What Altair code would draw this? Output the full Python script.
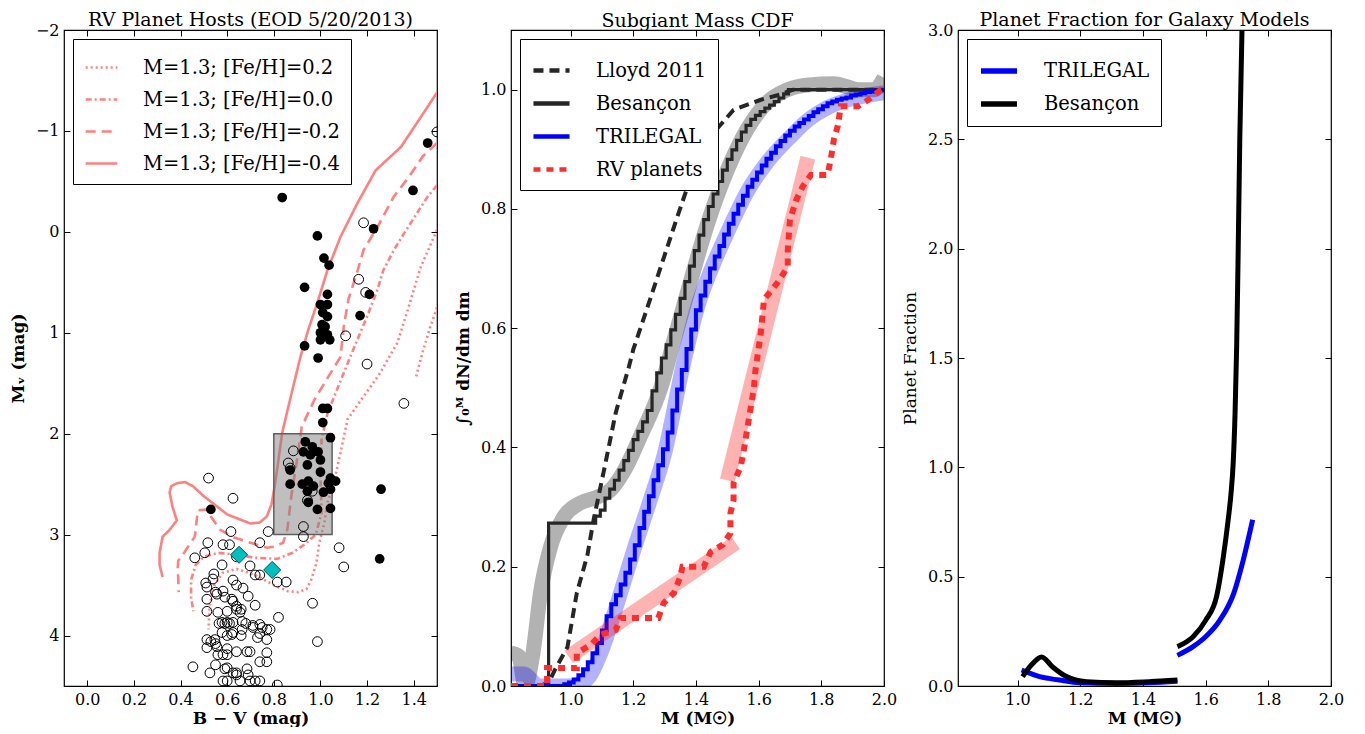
import altair as alt
import pandas as pd

FONT = "DejaVu Serif"
SALMON = "#ff8080"

# ---------------- Panel 1 : RV planet hosts ----------------
iso_labels = ["M=1.3; [Fe/H]=0.2", "M=1.3; [Fe/H]=0.0",
              "M=1.3; [Fe/H]=-0.2", "M=1.3; [Fe/H]=-0.4"]

iso_p02_bv = [1.50, 1.487, 1.43, 1.375, 1.33, 1.25, 1.17, 1.116, 1.085, 1.056, 1.03, 1.017,
              0.995, 0.983, 0.96, 0.94, 0.905, 0.86, 0.80, 0.72, 0.64, 0.58, 0.545, 0.525, 0.52]
iso_p02_mv = [-0.02, 0.05, 0.35, 0.77, 1.10, 1.42, 1.68, 1.86, 2.20, 2.50, 2.68, 2.88,
              3.08, 3.28, 3.45, 3.54, 3.57, 3.56, 3.50, 3.40, 3.34, 3.38, 3.50, 3.70, 3.94]
iso_p02b_bv = [1.50, 1.47, 1.44, 1.42, 1.41]
iso_p02b_mv = [0.75, 0.95, 1.18, 1.35, 1.44]

iso_p00_bv = [1.50, 1.46, 1.36, 1.315, 1.27, 1.245, 1.20, 1.14, 1.07, 1.03, 1.005, 1.0, 1.005,
              0.98, 0.93, 0.88, 0.815, 0.72, 0.64, 0.56, 0.50, 0.465, 0.445, 0.445, 0.455]
iso_p00_mv = [-0.46, -0.35, 0.01, 0.18, 0.38, 0.57, 0.84, 1.17, 1.57, 1.80, 2.06, 2.40, 2.78,
              3.00, 3.10, 3.18, 3.24, 3.23, 3.20, 3.18, 3.22, 3.30, 3.45, 3.62, 3.76]

iso_m02_bv = [1.50, 1.44, 1.375, 1.315, 1.245, 1.185, 1.16, 1.12, 1.10, 1.086, 1.03, 0.975, 0.92,
              0.90, 0.875, 0.858, 0.84, 0.80, 0.77, 0.685, 0.62, 0.569, 0.53, 0.513, 0.474,
              0.461, 0.418, 0.39, 0.388, 0.392]
iso_m02_mv = [-0.88, -0.75, -0.53, -0.35, -0.05, 0.18, 0.38, 0.67, 0.94, 1.24, 1.45, 1.66, 1.93,
              2.25, 2.62, 2.95, 3.08, 3.12, 3.13, 3.07, 3.02, 2.95, 2.82, 2.75, 2.76,
              3.02, 3.17, 3.26, 3.32, 3.57]

iso_m04_bv = [1.50, 1.42, 1.345, 1.237, 1.16, 1.086, 1.03, 0.987, 0.948, 0.914, 0.87, 0.836,
              0.806, 0.79, 0.77, 0.74, 0.70, 0.655, 0.60, 0.556, 0.50, 0.453, 0.42, 0.385, 0.36,
              0.353, 0.365, 0.384, 0.35, 0.323, 0.31, 0.31, 0.323]
iso_m04_mv = [-1.38, -1.10, -0.84, -0.61, -0.29, 0.05, 0.38, 0.70, 0.97, 1.24, 1.66, 1.99,
              2.49, 2.70, 2.82, 2.88, 2.89, 2.85, 2.80, 2.72, 2.62, 2.52, 2.48, 2.49, 2.52,
              2.58, 2.72, 2.86, 2.96, 3.02, 3.18, 3.30, 3.42]

filled_bv = [0.836, 0.987, 1.228, 1.397, 1.46,
             1.015, 1.037, 0.932, 1.03, 1.0, 1.03, 1.01, 1.03, 1.007, 1.02, 1.0, 1.03, 1.0, 1.04,
             0.932, 0.99, 1.21, 1.17,
             1.01, 1.03, 1.01, 1.043,
             0.935, 0.965, 0.927, 0.99, 0.957, 1.0, 0.944, 1.0, 0.87, 1.043, 1.065, 1.034, 0.87,
             0.922, 0.948, 0.97, 0.944, 1.043, 1.013, 0.948, 0.987, 1.043,
             1.26, 0.53, 1.254]
filled_mv = [-0.34, 0.04, -0.03, -0.41, -0.88,
             0.26, 0.33, 0.55, 0.62, 0.72, 0.72, 0.80, 0.84, 0.92, 0.94, 1.0, 1.02, 1.07, 1.07,
             1.13, 1.25, 0.62, 0.83,
             1.75, 1.75, 1.89, 2.04,
             2.08, 2.13, 2.18, 2.18, 2.21, 2.26, 2.31, 2.38, 2.36, 2.44, 2.47, 2.49, 2.50,
             2.50, 2.47, 2.52, 2.57, 2.55, 2.58, 2.68, 2.75, 2.74,
             2.55, 2.75, 3.24]

open_bv = [1.185, 1.5, 1.164, 1.194, 1.108, 1.2, 1.358,
           0.52, 0.625, 0.884, 0.862, 0.87, 0.965, 0.944, 0.927, 0.927, 0.776, 0.616,
           0.517, 0.582, 0.61, 0.74, 0.504, 0.461, 0.64, 0.578, 0.698, 0.72, 0.74, 0.815, 0.853,
           1.08, 1.10, 0.543, 0.539, 0.508, 0.513, 0.625, 0.64, 0.582, 0.668, 0.556, 0.59, 0.69,
           0.513, 0.625, 0.64, 0.72, 0.513, 0.60, 0.655, 0.82, 0.966, 0.578, 0.60, 0.625, 0.664,
           0.74, 0.75, 0.784, 0.711, 0.664, 0.578, 0.625, 0.74, 0.513, 0.547, 0.556, 0.513, 0.64,
           0.685, 0.698, 0.582, 0.77, 0.74, 0.987, 0.453, 0.526, 0.60, 0.625, 0.64, 0.69, 0.582,
           0.60, 0.655, 0.698, 0.72, 0.74, 0.815,
           0.55, 0.62, 0.56, 0.64, 0.66, 0.565, 0.59, 0.61, 0.68, 0.71, 0.77, 0.53, 0.55, 0.60,
           0.62, 0.66, 0.73, 0.77, 0.60, 0.56, 0.60, 0.77, 0.55, 0.59, 0.685, 0.64]
open_mv = [-0.09, -0.99, 0.47, 0.60, 1.03, 1.31, 1.70,
           2.44, 2.64, 2.17, 2.29, 2.34, 2.57, 2.66, 2.92, 3.02, 2.97, 2.97,
           3.08, 3.10, 3.10, 3.08, 3.18, 3.23, 3.22, 3.30, 3.31, 3.40, 3.40, 3.47, 3.47,
           3.13, 3.32, 3.39, 3.44, 3.48, 3.52, 3.45, 3.50, 3.56, 3.53, 3.59, 3.62, 3.61,
           3.64, 3.66, 3.71, 3.70, 3.76, 3.76, 3.77, 3.82, 3.68, 3.87, 3.87, 3.87, 3.86,
           3.89, 3.92, 3.94, 3.92, 3.94, 3.97, 3.97, 3.98, 4.04, 4.04, 4.11, 4.12, 4.16,
           4.16, 4.16, 4.19, 4.17, 4.26, 4.06, 4.31, 4.37, 4.32, 4.37, 4.37, 4.39, 4.45,
           4.45, 4.45, 4.45, 4.45, 4.45, 4.49,
           3.57, 3.64, 3.77, 3.74, 3.74, 3.88, 3.88, 3.88, 3.88, 3.90, 3.94, 4.06, 4.08, 4.00,
           3.99, 4.00, 4.02, 4.04, 4.13, 4.19, 4.19, 4.26, 4.29, 4.33, 4.33, 4.39]

diamond_bv = [0.651, 0.793]
diamond_mv = [3.20, 3.35]
box_bv = [0.80, 1.05]
box_mv = [2.0, 3.0]

# ---------------- Panel 2 : subgiant mass CDF ----------------
cdf_labels = ["Lloyd 2011", "Besançon", "TRILEGAL", "RV planets"]

lloyd_m = [0.90, 0.93, 0.95, 0.99, 1.02, 1.054, 1.074, 1.106, 1.144, 1.186, 1.20, 1.246, 1.288,
           1.33, 1.373, 1.437, 1.52, 1.607, 1.67, 1.71, 2.0]
lloyd_c = [0.0, 0.005, 0.027, 0.065, 0.156, 0.22, 0.28, 0.36, 0.458, 0.535, 0.564, 0.636, 0.703,
           0.77, 0.837, 0.916, 0.966, 0.983, 0.992, 1.0, 1.0]

besancon_m = [0.81, 0.93, 1.080, 1.095, 1.110, 1.125, 1.140, 1.155, 1.170, 1.185, 1.200, 1.215,
              1.230, 1.245, 1.260, 1.275, 1.290, 1.305, 1.320, 1.335, 1.350, 1.365, 1.380, 1.395,
              1.410, 1.425, 1.440, 1.455, 1.470, 1.485, 1.500, 1.515, 1.530, 1.545, 1.560, 1.575,
              1.590, 1.605, 1.620, 1.635, 1.650, 1.665, 1.680, 1.695, 2.0]
besancon_c = [0.0, 0.273, 0.285, 0.295, 0.315, 0.330, 0.345, 0.362, 0.378, 0.395, 0.413, 0.427,
              0.443, 0.462, 0.495, 0.525, 0.550, 0.572, 0.597, 0.623, 0.650, 0.678, 0.704, 0.730,
              0.756, 0.782, 0.804, 0.825, 0.846, 0.865, 0.883, 0.899, 0.915, 0.929, 0.940, 0.950,
              0.957, 0.963, 0.969, 0.974, 0.980, 0.986, 0.993, 1.0, 1.0]

trilegal_m = [0.81, 0.980, 0.995, 1.010, 1.025, 1.040, 1.055, 1.070, 1.085, 1.100, 1.115, 1.130,
              1.145, 1.160, 1.175, 1.190, 1.205, 1.220, 1.235, 1.250, 1.265, 1.280, 1.295, 1.310,
              1.325, 1.340, 1.355, 1.370, 1.385, 1.400, 1.415, 1.430, 1.445, 1.460, 1.475, 1.490,
              1.505, 1.520, 1.535, 1.550, 1.565, 1.580, 1.595, 1.610, 1.625, 1.640, 1.655, 1.670,
              1.685, 1.700, 1.715, 1.730, 1.745, 1.760, 1.775, 1.790, 1.805, 1.820, 1.835, 1.850,
              1.865, 1.880, 1.895, 1.910, 1.925, 1.940, 1.955, 1.970, 1.985, 2.000]
trilegal_c = [0.0, 0.003, 0.006, 0.011, 0.018, 0.028, 0.040, 0.055, 0.072, 0.093, 0.117, 0.137,
              0.152, 0.170, 0.190, 0.212, 0.236, 0.265, 0.292, 0.318, 0.345, 0.370, 0.397, 0.425,
              0.462, 0.497, 0.530, 0.565, 0.598, 0.630, 0.655, 0.678, 0.700, 0.720, 0.738, 0.757,
              0.775, 0.792, 0.807, 0.822, 0.837, 0.849, 0.861, 0.873, 0.884, 0.894, 0.905, 0.914,
              0.923, 0.931, 0.938, 0.944, 0.950, 0.956, 0.962, 0.967, 0.972, 0.977, 0.980, 0.983,
              0.985, 0.987, 0.990, 0.992, 0.994, 0.996, 0.997, 0.998, 0.999, 1.0]

rv_m = [0.81, 0.925, 0.925, 1.02, 1.02, 1.064, 1.096, 1.144, 1.16, 1.28, 1.297, 1.33, 1.35, 1.357,
        1.425, 1.447, 1.486, 1.51, 1.51, 1.52, 1.52, 1.543, 1.553, 1.565, 1.585, 1.59, 1.607,
        1.617, 1.66, 1.693, 1.693, 1.70, 1.72, 1.74, 1.767, 1.82, 1.83, 1.84, 1.853, 1.862,
        1.917, 1.95, 1.99, 2.0]
rv_c = [0.0, 0.0, 0.03, 0.03, 0.055, 0.069, 0.086, 0.094, 0.114, 0.114, 0.139, 0.156, 0.183, 0.2,
        0.2, 0.225, 0.237, 0.256, 0.29, 0.312, 0.34, 0.368, 0.396, 0.435, 0.5, 0.53, 0.592,
        0.648, 0.676, 0.703, 0.73, 0.782, 0.815, 0.837, 0.857, 0.857, 0.883, 0.916, 0.94, 0.972,
        0.972, 0.983, 1.0, 1.0]

besancon_band_m = [0.81, 0.835, 0.855, 0.88, 0.904, 0.936, 0.978, 1.032, 1.086, 1.13, 1.17, 1.224,
                   1.288, 1.33, 1.373, 1.437, 1.50, 1.565, 1.63, 1.693, 1.76, 1.84, 1.92, 1.97, 2.0]
besancon_band_c = [0.055, 0.05, 0.0, 0.055, 0.156, 0.233, 0.283, 0.307, 0.317, 0.33, 0.36, 0.42,
                   0.50, 0.58, 0.66, 0.775, 0.865, 0.935, 0.98, 1.0, 1.008, 1.01, 1.0, 1.0, 1.02]
trilegal_band_m = [0.81, 0.85, 0.90, 0.95, 1.00, 1.05, 1.10, 1.15, 1.20, 1.25, 1.30, 1.36, 1.405,
                   1.45, 1.50, 1.565, 1.63, 1.70, 1.76, 1.82, 1.90, 2.0]
trilegal_band_c = [0.02, 0.02, 0.0, 0.0, 0.0, 0.01, 0.06, 0.14, 0.225, 0.305, 0.39, 0.54, 0.635,
                   0.70, 0.76, 0.83, 0.88, 0.92, 0.95, 0.97, 0.985, 0.995]
rv_fit1_m = [0.994, 1.527]
rv_fit1_c = [0.049, 0.24]
rv_fit2_m = [1.50, 1.757]
rv_fit2_c = [0.345, 0.886]

# ---------------- Panel 3 : planet fraction ----------------
frac_labels = ["TRILEGAL", "Besançon"]
tri_low_m = [1.013, 1.04, 1.07, 1.10, 1.134, 1.20, 1.316, 1.42, 1.51]
tri_low_f = [0.073, 0.058, 0.043, 0.035, 0.027, 0.015, 0.012, 0.015, 0.022]
tri_high_m = [1.51, 1.56, 1.60, 1.645, 1.69, 1.72, 1.75]
tri_high_f = [0.14, 0.18, 0.225, 0.30, 0.425, 0.576, 0.76]
bes_low_m = [1.016, 1.044, 1.077, 1.112, 1.156, 1.22, 1.316, 1.42, 1.51]
bes_low_f = [0.043, 0.096, 0.133, 0.087, 0.043, 0.02, 0.015, 0.02, 0.027]
bes_high_m = [1.51, 1.56, 1.60, 1.635, 1.655, 1.672, 1.681, 1.688, 1.694, 1.699, 1.704, 1.709, 1.716]
bes_high_f = [0.18, 0.225, 0.30, 0.41, 0.576, 0.76, 0.88, 1.02, 1.25, 1.55, 2.0, 2.5, 3.0]


# ---------------- helpers ----------------
def line_df(xs, ys, **const):
    d = pd.DataFrame({"x": xs, "y": ys, "i": list(range(len(xs)))})
    for k, v in const.items():
        d[k] = v
    return d


TICK = {"expr": "-6"}
AX = dict(tickSize=TICK, tickColor="black", tickWidth=1, domain=False, grid=False,
          labelFlush=False, labelOverlap=False)


def frame(xs, ys, xvals, yvals, xfmt, yfmt, xtitle, ytitle, yweight="bold"):
    d = pd.DataFrame({"x": [xvals[0]], "y": [yvals[0]]})
    main = alt.Chart(d).mark_point(opacity=0).encode(
        x=alt.X("x:Q", scale=xs, axis=alt.Axis(orient="bottom", values=xvals, format=xfmt,
                                               title=xtitle, labelPadding=11, titlePadding=3, **AX)),
        y=alt.Y("y:Q", scale=ys, axis=alt.Axis(orient="left", values=yvals, format=yfmt,
                                               title=ytitle, titleFontWeight=yweight,
                                               labelPadding=11, titlePadding=8, **AX)))
    mirror = alt.Chart(d).mark_point(opacity=0).encode(
        x=alt.X("x:Q", scale=xs, axis=alt.Axis(orient="top", values=xvals, labels=False,
                                               title=None, **AX)),
        y=alt.Y("y:Q", scale=ys, axis=alt.Axis(orient="right", values=yvals, labels=False,
                                               title=None, **AX)))
    return main, mirror


def legend(size, width, rowpad, **kw):
    return alt.Legend(title=None, orient="top-left", offset=9, padding=11,
                      strokeColor="black", fillColor="white", labelFont=FONT,
                      labelFontSize=19.5, symbolType="stroke", symbolSize=size,
                      symbolStrokeWidth=width, labelOffset=24, rowPadding=rowpad,
                      labelLimit=400, **kw)


def title(text, off):
    return alt.TitleParams(text=text, offset=off, font=FONT, fontSize=19,
                           fontWeight="normal", anchor="middle", color="black")


W, H = 373, 656

# ---------------- Panel 1 ----------------
p1x = alt.Scale(domain=[-0.1, 1.5], nice=False, zero=False)
p1y = alt.Scale(domain=[-2, 4.5], nice=False, zero=False, reverse=True)

iso_df = pd.concat([
    line_df(iso_p02_bv, iso_p02_mv, iso=iso_labels[0], seg="a"),
    line_df(iso_p02b_bv, iso_p02b_mv, iso=iso_labels[0], seg="b"),
    line_df(iso_p00_bv, iso_p00_mv, iso=iso_labels[1], seg="a"),
    line_df(iso_m02_bv, iso_m02_mv, iso=iso_labels[2], seg="a"),
    line_df(iso_m04_bv, iso_m04_mv, iso=iso_labels[3], seg="a"),
])

iso_layer = alt.Chart(iso_df).mark_line(strokeWidth=2.6, color=SALMON, clip=True).encode(
    x=alt.X("x:Q", scale=p1x, axis=None),
    y=alt.Y("y:Q", scale=p1y, axis=None),
    strokeDash=alt.StrokeDash("iso:N", scale=alt.Scale(domain=iso_labels,
                                                       range=[[2, 3], [6, 3, 2, 3], [10, 6], [1, 0]]),
                              legend=legend(1000, 2.6, 5, symbolStrokeColor=SALMON)),
    detail="seg:N",
    order="i:Q",
)

box_df = pd.DataFrame({"x": [box_bv[0]], "x2": [box_bv[1]], "y": [box_mv[0]], "y2": [box_mv[1]]})
box_layer = alt.Chart(box_df).mark_rect(fill="#808080", fillOpacity=0.5, stroke="#606060",
                                        strokeWidth=1.5).encode(
    x=alt.X("x:Q", scale=p1x, axis=None), x2="x2:Q",
    y=alt.Y("y:Q", scale=p1y, axis=None), y2="y2:Q")

open_layer = alt.Chart(pd.DataFrame({"x": open_bv, "y": open_mv})).mark_point(
    shape="circle", filled=False, size=95, stroke="black", strokeWidth=1, opacity=1, clip=True
).encode(x=alt.X("x:Q", scale=p1x, axis=None), y=alt.Y("y:Q", scale=p1y, axis=None))

filled_layer = alt.Chart(pd.DataFrame({"x": filled_bv, "y": filled_mv})).mark_circle(
    size=95, color="black", opacity=1, clip=True
).encode(x=alt.X("x:Q", scale=p1x, axis=None), y=alt.Y("y:Q", scale=p1y, axis=None))

diamond_layer = alt.Chart(pd.DataFrame({"x": diamond_bv, "y": diamond_mv})).mark_point(
    shape="diamond", filled=True, fill="#00bfbf", stroke="#005050", strokeWidth=1,
    size=290, opacity=1
).encode(x=alt.X("x:Q", scale=p1x, axis=None), y=alt.Y("y:Q", scale=p1y, axis=None))

m1, r1 = frame(p1x, p1y, [0.0, 0.2, 0.4, 0.6, 0.8, 1.0, 1.2, 1.4], [-2, -1, 0, 1, 2, 3, 4],
               ".1f", "d", "B − V (mag)", "Mᵥ (mag)")

p1 = alt.layer(iso_layer, box_layer, open_layer, filled_layer, diamond_layer, m1, r1).properties(
    width=W, height=H, title=title("RV Planet Hosts (EOD 5/20/2013)", -8))

# ---------------- Panel 2 ----------------
p2x = alt.Scale(domain=[0.81, 2.0], nice=False, zero=False)
p2y = alt.Scale(domain=[0.0, 1.1], nice=False, zero=False)

series_color = alt.Color("s:N", scale=alt.Scale(domain=cdf_labels,
                                                range=["#262626", "#262626", "#0000ff", "#ff2e2e"]),
                         legend=legend(1300, 4.5, 3))
series_dash = alt.StrokeDash("s:N", scale=alt.Scale(domain=cdf_labels,
                                                    range=[[10, 6], [1, 0], [1, 0], [7, 6]]),
                             legend=legend(1300, 4.5, 3))


def enc2(ch):
    return ch.encode(x=alt.X("x:Q", scale=p2x, axis=None), y=alt.Y("y:Q", scale=p2y, axis=None))


band_gray = enc2(alt.Chart(line_df(besancon_band_m, besancon_band_c)).mark_line(
    color="black", opacity=0.3, strokeWidth=15, interpolate="monotone", clip=True))
band_blue = enc2(alt.Chart(line_df(trilegal_band_m, trilegal_band_c)).mark_line(
    color="blue", opacity=0.3, strokeWidth=15, interpolate="monotone", clip=True))
band_red = enc2(alt.Chart(pd.concat([line_df(rv_fit1_m, rv_fit1_c, seg="a"),
                                     line_df(rv_fit2_m, rv_fit2_c, seg="b")])).mark_line(
    color="red", opacity=0.3, strokeWidth=15, clip=True)).encode(detail="seg:N")

lloyd_layer = enc2(alt.Chart(line_df(lloyd_m, lloyd_c, s=cdf_labels[0])).mark_line(
    strokeWidth=4, clip=True)).encode(color=series_color, strokeDash=series_dash, order="i:Q")
bes_layer = enc2(alt.Chart(line_df(besancon_m, besancon_c, s=cdf_labels[1])).mark_line(
    strokeWidth=3.2, interpolate="step-after", clip=True)).encode(
    color=series_color, strokeDash=series_dash, order="i:Q")
tri_layer = enc2(alt.Chart(line_df(trilegal_m, trilegal_c, s=cdf_labels[2])).mark_line(
    strokeWidth=4, interpolate="step-after", clip=True)).encode(
    color=series_color, strokeDash=series_dash, order="i:Q")
rv_layer = enc2(alt.Chart(line_df(rv_m, rv_c, s=cdf_labels[3])).mark_line(
    strokeWidth=6, clip=True)).encode(color=series_color, strokeDash=series_dash, order="i:Q")

m2, r2 = frame(p2x, p2y, [1.0, 1.2, 1.4, 1.6, 1.8, 2.0], [0.0, 0.2, 0.4, 0.6, 0.8, 1.0],
               ".1f", ".1f", "M (M☉)", "∫₀ᴹ dN/dm dm")

p2 = alt.layer(band_gray, band_blue, lloyd_layer, bes_layer, tri_layer, band_red, rv_layer,
               m2, r2).properties(width=W, height=H, title=title("Subgiant Mass CDF", -1))

# ---------------- Panel 3 ----------------
p3x = alt.Scale(domain=[0.81, 2.0], nice=False, zero=False)
p3y = alt.Scale(domain=[0.0, 3.0], nice=False, zero=False)

frac_df = pd.concat([
    line_df(tri_low_m, tri_low_f, model=frac_labels[0], seg="a"),
    line_df(tri_high_m, tri_high_f, model=frac_labels[0], seg="b"),
    line_df(bes_low_m, bes_low_f, model=frac_labels[1], seg="c"),
    line_df(bes_high_m, bes_high_f, model=frac_labels[1], seg="d"),
])
frac_layer = alt.Chart(frac_df).mark_line(strokeWidth=5, interpolate="monotone", clip=True).encode(
    x=alt.X("x:Q", scale=p3x, axis=None),
    y=alt.Y("y:Q", scale=p3y, axis=None),
    color=alt.Color("model:N", scale=alt.Scale(domain=frac_labels, range=["#0000ff", "#000000"]),
                    legend=legend(1300, 5.5, 1)),
    detail="seg:N",
    order="i:Q",
)

m3, r3 = frame(p3x, p3y, [1.0, 1.2, 1.4, 1.6, 1.8, 2.0], [0.0, 0.5, 1.0, 1.5, 2.0, 2.5, 3.0],
               ".1f", ".1f", "M (M☉)", "Planet Fraction", yweight="normal")

p3 = alt.layer(frac_layer, m3, r3).properties(
    width=W, height=H, title=title("Planet Fraction for Galaxy Models", -8))

chart = alt.hconcat(p1, p2, p3, spacing=74, bounds="flush").resolve_scale(
    color="independent", strokeDash="independent"
).resolve_legend(
    color="independent", strokeDash="independent"
).properties(
    padding={"left": 0, "top": 2, "right": 0, "bottom": 0}
).configure(font=FONT).configure_view(
    stroke="black", strokeWidth=1.2
).configure_axis(
    labelFont=FONT, labelFontSize=16, labelColor="black",
    titleFont=FONT, titleFontSize=17, titleFontWeight="bold", titleColor="black"
)

chart.save("out.html", embed_options={"renderer": "svg", "actions": False})
